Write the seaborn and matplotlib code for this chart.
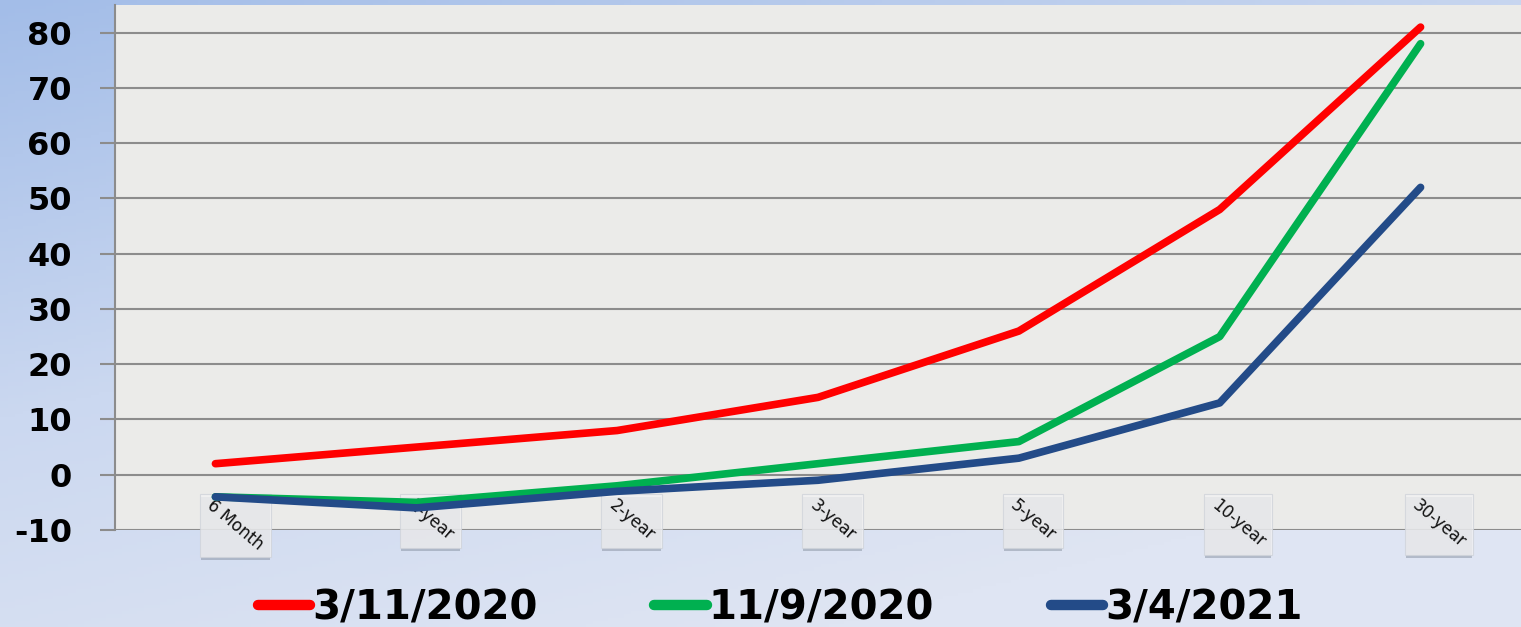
import numpy as np
import pandas as pd
import seaborn as sns
import matplotlib.pyplot as plt
from matplotlib.colors import LinearSegmentedColormap
from matplotlib.transforms import IdentityTransform

maturities = ['6 Month', '1-year', '2-year', '3-year', '5-year', '10-year', '30-year']
dates = ['3/11/2020', '11/9/2020', '3/4/2021']
mar_2020 = [2, 5, 8, 14, 26, 48, 81]
nov_2020 = [-4, -5, -2, 2, 6, 25, 78]
mar_2021 = [-4, -6, -3, -1, 3, 13, 52]
colors = ['#ff0000', '#00b050', '#234b88']
y_ticks = [-10, 0, 10, 20, 30, 40, 50, 60, 70, 80]

df = pd.DataFrame({
    'pos': list(range(len(maturities))) * 3,
    'value': mar_2020 + nov_2020 + mar_2021,
    'date': [d for d in dates for _ in maturities],
})

sns.set_style('white')
plt.rcParams['text.color'] = 'black'
plt.rcParams['ytick.color'] = 'black'
fig = plt.figure(figsize=(15.21, 6.27), dpi=100)

# background gradient
bg = fig.add_axes([0, 0, 1, 1], zorder=-10)
gx, gy = np.meshgrid(np.linspace(0, 1, 200), np.linspace(0, 1, 200))
grad = np.clip(0.75 * gy + 0.45 * gx, 0, 1)
cmap_bg = LinearSegmentedColormap.from_list('bg', ['#a3bde8', '#cbd8f0', '#dfe5f3'])
bg.imshow(grad, cmap=cmap_bg, aspect='auto', extent=[0, 1, 0, 1], origin='upper')
bg.axis('off')

ax = fig.add_axes([115 / 1521, 1 - 530 / 627, 1 - 115 / 1521, (530 - 5) / 627])
ax.set_facecolor('#ebebe9')
sns.lineplot(data=df, x='pos', y='value', hue='date', palette=colors,
             linewidth=5.5, ax=ax, legend=False, sort=False, zorder=3)

ax.set_xlim(-0.5, 6.5)
ax.set_ylim(-10, 85)
ax.set_yticks(y_ticks)
ax.set_yticklabels([str(v) for v in y_ticks], fontsize=23, fontweight='bold',
                   family='DejaVu Sans')
ax.tick_params(axis='y', length=11, width=1.5, color='#8c8c8c', labelcolor='black',
               pad=20, left=True)
ax.set_xticks([])
ax.set_xlabel('')
ax.set_ylabel('')
ax.grid(axis='y', color='#8c8c8c', linewidth=1.5)
ax.set_axisbelow(True)
for s in ['top', 'right', 'bottom']:
    ax.spines[s].set_visible(False)
ax.spines['left'].set_color('#8c8c8c')
ax.spines['left'].set_linewidth(1.5)

labels = []
for i, lab in enumerate(maturities):
    t = ax.text(i - 0.03, -5.1, lab, rotation=-40, rotation_mode='anchor',
                ha='left', va='center', fontsize=12, color='#111111', zorder=2)
    labels.append(t)

# axis-aligned label boxes with a soft shadow underneath, below the lines
fig.canvas.draw()
for t in labels:
    bb = t.get_window_extent()
    shadow = plt.Rectangle((bb.x0 - 3, bb.y0 - 7), bb.width + 6, bb.height + 6,
                           transform=IdentityTransform(), facecolor='#7d8796',
                           alpha=0.45, edgecolor='none', zorder=0.7, clip_on=False)
    box = plt.Rectangle((bb.x0 - 4, bb.y0 - 4), bb.width + 8, bb.height + 6,
                        transform=IdentityTransform(), facecolor='#f2f2f3',
                        alpha=0.8, edgecolor='#cfd3da', linewidth=0.8, zorder=0.8,
                        clip_on=False)
    ax.add_artist(shadow)
    ax.add_artist(box)

handles = [plt.Line2D([], [], color=c, linewidth=7.5, solid_capstyle='round') for c in colors]
leg = fig.legend(handles, dates, loc='center', bbox_to_anchor=(0.513, 0.030), ncol=3,
                 frameon=False, handlelength=1.3, handletextpad=0.05, columnspacing=2.9,
                 prop={'family': 'DejaVu Sans', 'weight': 'bold', 'size': 29})
for txt in leg.get_texts():
    txt.set_color('black')

fig.savefig('out.png', dpi=100)
